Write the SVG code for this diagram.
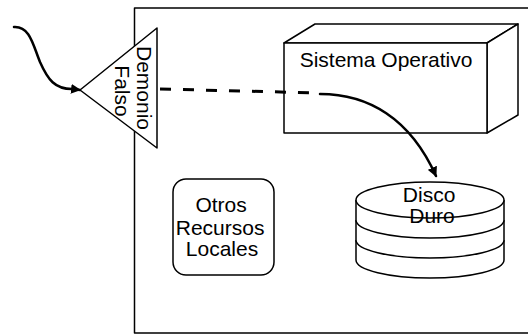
<svg xmlns="http://www.w3.org/2000/svg" width="528" height="336" viewBox="0 0 528 336">
  <style>
    .shape { fill: #ffffff; stroke: #000000; stroke-width: 1.5; stroke-linejoin: round; }
    .label { font-family: "Liberation Sans", Arial, sans-serif; font-size: 21px; fill: #000000; }
    .flow { fill: none; stroke: #000000; stroke-width: 2.5; stroke-linecap: round; }
    .dashed { fill: none; stroke: #000000; stroke-width: 3; stroke-dasharray: 11 12; }
  </style>
  <defs>
    <marker id="arrow" viewBox="0 0 10 10" refX="9" refY="5" markerWidth="4" markerHeight="4" orient="auto" markerUnits="strokeWidth">
      <path d="M0,0 L10,5 L0,10 Z" fill="#000000"/>
    </marker>
  </defs>

  <rect width="528" height="336" fill="#ffffff"/>

  <!-- host boundary, open on the right -->
  <g id="host">
    <path class="shape" d="M530,8 H134.5 V333 H530" fill="none"/>
  </g>

  <!-- operating system as a 3D box -->
  <g id="sistema-operativo">
    <path class="shape" d="M284,43 L315,24 L518,24 L487,43 Z"/>
    <path class="shape" d="M487,43 L518,24 L518,115 L487,133 Z"/>
    <rect class="shape" x="284" y="43" width="203" height="90"/>
    <text class="label" x="386" y="67" text-anchor="middle">Sistema Operativo</text>
  </g>

  <!-- other local resources -->
  <g id="otros-recursos">
    <rect class="shape" x="173" y="179" width="101" height="96" rx="13" ry="13"/>
    <text class="label" text-anchor="middle">
      <tspan x="224" y="212">Otros</tspan>
      <tspan x="223" y="235">Recursos</tspan>
      <tspan x="222" y="256">Locales</tspan>
    </text>
  </g>

  <!-- hard disk as a stack of platters -->
  <g id="disco-duro">
    <path class="shape" d="M356,200 V260 A74,18 0 0 0 504,260 V200"/>
    <ellipse class="shape" cx="430" cy="200" rx="74" ry="18"/>
    <path class="shape" fill="none" d="M356,220 A74,18 0 0 0 504,220"/>
    <path class="shape" fill="none" d="M356,240 A74,18 0 0 0 504,240"/>
    <text class="label" text-anchor="middle">
      <tspan x="432" y="202">Disco</tspan>
      <tspan x="432" y="223">Duro</tspan>
    </text>
  </g>

  <!-- connectors -->
  <g id="connectors">
    <path class="flow" d="M14,27 C30,26 33,45 40,62 C48,80 55,89 72,89 L80,90" marker-end="url(#arrow)"/>
    <path class="dashed" d="M160,89 L320,93"/>
    <path class="flow" d="M320,94 C368,94 410,118 436,176" marker-end="url(#arrow)"/>
  </g>

  <!-- fake daemon at the host boundary -->
  <g id="demonio-falso">
    <path class="shape" d="M80,90 L157,28 L157,148 Z"/>
    <text class="label" text-anchor="middle" transform="translate(137,88) rotate(90)">Demonio</text>
    <text class="label" text-anchor="middle" transform="translate(115,91) rotate(90)">Falso</text>
  </g>
</svg>
